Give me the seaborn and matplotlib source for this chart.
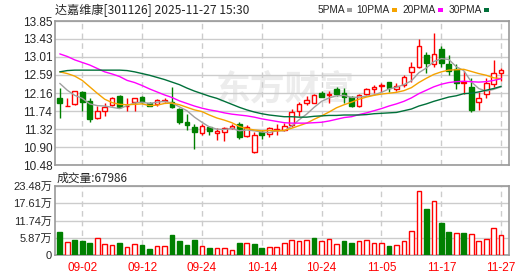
import numpy as np
import matplotlib
matplotlib.use("Agg")
import matplotlib.pyplot as plt
from matplotlib.patches import Rectangle
import seaborn as sns

sns.set_style("white")
plt.rcParams['font.family'] = ['Liberation Sans', 'Noto Sans CJK SC', 'DejaVu Sans']
plt.rcParams['axes.unicode_minus'] = False

# 交易日
dates = ["08-28", "08-29", "09-01", "09-02", "09-03", "09-04", "09-05", "09-08", "09-09", "09-10",
         "09-11", "09-12", "09-15", "09-16", "09-17", "09-18", "09-19", "09-22", "09-23", "09-24",
         "09-25", "09-26", "09-29", "09-30", "10-09", "10-10", "10-13", "10-14", "10-15", "10-16",
         "10-17", "10-20", "10-21", "10-22", "10-23", "10-24", "10-27", "10-28", "10-29", "10-30",
         "10-31", "11-03", "11-04", "11-05", "11-06", "11-07", "11-10", "11-11", "11-12", "11-13",
         "11-14", "11-17", "11-18", "11-19", "11-20", "11-21", "11-24", "11-25", "11-26", "11-27"]
tick_dates = ["09-02", "09-12", "09-24", "10-14", "10-24", "11-05", "11-17", "11-27"]

opens = [12.04, 11.86, 11.90, 12.19, 11.98, 11.57, 11.75, 11.89, 12.10, 11.86,
         11.96, 12.06, 11.92, 11.90, 11.98, 11.95, 11.79, 11.48, 11.36, 11.22,
         11.36, 11.24, 11.26, 11.34, 11.44, 11.17, 10.78, 11.26, 11.21, 11.31,
         11.31, 11.42, 11.75, 11.92, 11.94, 12.16, 12.11, 12.25, 12.17, 12.08,
         11.87, 12.14, 12.25, 12.34, 12.42, 12.27, 12.36, 12.66, 12.78, 13.05,
         12.84, 13.19, 12.84, 12.73, 12.40, 12.31, 11.95, 12.14, 12.38, 12.63]
highs = [12.28, 12.04, 12.22, 12.22, 12.04, 11.86, 11.92, 12.08, 12.12, 12.04,
         12.04, 12.09, 11.95, 12.02, 12.05, 12.31, 11.82, 11.67, 11.43, 11.43,
         11.40, 11.35, 11.38, 11.45, 11.49, 11.42, 11.26, 11.30, 11.38, 11.44,
         11.46, 11.78, 11.95, 12.09, 12.14, 12.22, 12.22, 12.31, 12.28, 12.09,
         12.15, 12.28, 12.35, 12.41, 12.43, 12.41, 12.59, 12.89, 13.43, 13.12,
         13.57, 13.27, 13.05, 12.84, 12.68, 12.51, 12.20, 12.51, 12.94, 12.76]
lows = [11.59, 11.85, 11.88, 11.75, 11.49, 11.55, 11.63, 11.86, 11.81, 11.75,
        11.75, 11.94, 11.85, 11.87, 11.95, 11.81, 11.43, 11.29, 10.85, 11.18,
        11.18, 11.06, 11.03, 11.33, 11.10, 11.14, 10.75, 11.10, 11.14, 11.18,
        11.28, 11.38, 11.62, 11.88, 11.92, 12.06, 11.92, 12.09, 11.93, 11.84,
        11.84, 12.12, 12.17, 12.19, 12.19, 12.22, 12.31, 12.43, 12.74, 12.64,
        12.77, 12.77, 12.59, 12.27, 12.15, 11.71, 11.77, 12.05, 12.31, 12.45]
closes = [11.94, 11.87, 12.21, 11.96, 11.56, 11.74, 11.84, 12.04, 11.84, 11.87,
          12.04, 11.96, 11.87, 11.99, 11.99, 11.84, 11.49, 11.42, 11.25, 11.40,
          11.27, 11.27, 11.34, 11.40, 11.14, 11.36, 11.18, 11.18, 11.34, 11.32,
          11.39, 11.73, 11.91, 12.00, 12.12, 12.08, 12.13, 12.15, 12.07, 11.87,
          12.11, 12.25, 12.30, 12.35, 12.28, 12.33, 12.53, 12.77, 13.27, 12.87,
          13.07, 12.86, 12.69, 12.41, 12.42, 11.77, 12.05, 12.39, 12.63, 12.70]

# 成交量（万手）
volume = [7.9, 4.5, 5.1, 4.9, 4.2, 5.7, 3.7, 3.4, 4.2, 2.6,
          3.7, 3.4, 2.1, 3.1, 3.1, 6.8, 4.9, 3.4, 5.1, 3.1,
          2.5, 2.3, 2.3, 1.7, 4.2, 4.0, 3.7, 2.5, 2.7, 2.7,
          4.0, 5.1, 4.75, 5.1, 5.7, 4.75, 5.3, 3.7, 4.75, 4.2,
          4.75, 5.1, 4.0, 4.0, 3.05, 3.4, 4.75, 8.1, 21.7, 15.6,
          18.3, 11.0, 7.9, 7.6, 7.4, 7.1, 4.75, 5.3, 9.05, 6.8]
vol_up = "grgggrrrgrrggrrggggrgrrrgrggrrrrrrgrrrggrrrrgrrrrgrggrgrrrrr"

ma5 = [12.39, 12.23, 12.11, 12.04, 11.91, 11.87, 11.86, 11.83, 11.80, 11.87,
       11.93, 11.95, 11.92, 11.95, 11.97, 11.93, 11.84, 11.75, 11.60, 11.48,
       11.37, 11.32, 11.31, 11.34, 11.28, 11.30, 11.28, 11.25, 11.24, 11.28,
       11.28, 11.39, 11.54, 11.67, 11.83, 11.97, 12.05, 12.10, 12.11, 12.06,
       12.07, 12.09, 12.12, 12.18, 12.26, 12.30, 12.36, 12.45, 12.64, 12.75,
       12.90, 12.97, 12.95, 12.78, 12.69, 12.43, 12.27, 12.21, 12.25, 12.31]
ma10 = [12.66, 12.62, 12.56, 12.46, 12.31, 12.16, 12.02, 11.94, 11.90, 11.89,
        11.90, 11.91, 11.87, 11.88, 11.92, 11.93, 11.89, 11.83, 11.77, 11.73,
        11.65, 11.58, 11.53, 11.47, 11.38, 11.33, 11.30, 11.28, 11.29, 11.28,
        11.29, 11.34, 11.40, 11.46, 11.55, 11.63, 11.72, 11.82, 11.89, 11.95,
        12.02, 12.07, 12.11, 12.14, 12.16, 12.18, 12.22, 12.29, 12.41, 12.51,
        12.60, 12.66, 12.70, 12.71, 12.72, 12.67, 12.62, 12.58, 12.52, 12.50]
ma20 = [13.08, 13.02, 12.94, 12.88, 12.82, 12.74, 12.66, 12.61, 12.55, 12.46,
        12.41, 12.34, 12.26, 12.19, 12.12, 12.06, 11.98, 11.92, 11.86, 11.81,
        11.77, 11.74, 11.70, 11.67, 11.65, 11.63, 11.60, 11.56, 11.53, 11.50,
        11.47, 11.46, 11.46, 11.46, 11.47, 11.48, 11.51, 11.55, 11.59, 11.61,
        11.66, 11.70, 11.75, 11.80, 11.86, 11.91, 11.97, 12.05, 12.15, 12.23,
        12.31, 12.37, 12.41, 12.43, 12.44, 12.43, 12.42, 12.43, 12.46, 12.50]
ma30 = [12.66, 12.69, 12.70, 12.70, 12.70, 12.70, 12.70, 12.70, 12.70, 12.69,
        12.66, 12.62, 12.58, 12.53, 12.48, 12.42, 12.36, 12.28, 12.21, 12.15,
        12.09, 12.04, 11.97, 11.90, 11.83, 11.77, 11.72, 11.68, 11.65, 11.63,
        11.61, 11.61, 11.60, 11.60, 11.62, 11.63, 11.64, 11.64, 11.65, 11.65,
        11.65, 11.66, 11.68, 11.69, 11.70, 11.71, 11.75, 11.79, 11.86, 11.91,
        11.97, 12.02, 12.07, 12.10, 12.15, 12.16, 12.19, 12.23, 12.27, 12.32]

price_ticks = [10.48, 10.90, 11.32, 11.74, 12.16, 12.59, 13.01, 13.43, 13.85]
vol_ticks = [0, 5.87, 11.74, 17.61, 23.48]
vol_tick_labels = ["0", "5.87万", "11.74万", "17.61万", "23.48万"]

RED = "#ff0000"
GREEN = "#008000"
ma_colors = {"5PMA": "#a0a0a0", "10PMA": "#f5a300", "20PMA": "#ff00ff", "30PMA": "#00703a"}

idx = np.arange(len(dates))
tick_idx = [dates.index(d) for d in tick_dates]

fig = plt.figure(figsize=(5.30, 2.76), dpi=100)
ax = fig.add_axes([55 / 530, 1 - 165 / 276, 454 / 530, 144 / 276])
axv = fig.add_axes([55 / 530, 1 - 255 / 276, 454 / 530, 69 / 276])

for a in (ax, axv):
    a.set_xlim(-0.64, 60.05)
    a.set_axisbelow(True)
    for s in a.spines.values():
        s.set_color("#999999")
        s.set_linewidth(1.2)
    a.set_xticks(tick_idx)
    a.grid(axis="x", color="#cccccc", linestyle=(0, (4, 3)), linewidth=1)
    a.tick_params(length=0, labelsize=8.5, pad=2)

# 价格
ax.set_ylim(10.48, 13.85)
ax.set_yticks(price_ticks)
ax.set_yticklabels([f"{t:.2f}" for t in price_ticks])
ax.grid(axis="y", color="#cccccc", linestyle="-", linewidth=1)
ax.set_xticklabels([])

ax.text(0.355, 0.53, "东方财富", transform=ax.transAxes, fontsize=25, fontweight="bold",
        color="#ececec", family=["Noto Sans CJK SC"], va="center", zorder=0.4)

w = 0.62
for i in idx:
    o, h, l, c = opens[i], highs[i], lows[i], closes[i]
    up = c >= o
    col = RED if up else GREEN
    ax.vlines(i, l, h, color=col, linewidth=1, zorder=2)
    body = max(abs(c - o), 0.004)
    ax.bar(i, body, bottom=min(o, c), width=w, facecolor="white" if up else GREEN,
           edgecolor=col, linewidth=1, zorder=3)

for name, vals in zip(ma_colors, (ma5, ma10, ma20, ma30)):
    sns.lineplot(x=idx, y=vals, ax=ax, color=ma_colors[name], linewidth=1, zorder=4)
ax.set_xlabel("")
ax.set_ylabel("")

# 成交量
axv.set_ylim(0, 23.48)
axv.set_yticks(vol_ticks)
axv.set_yticklabels(vol_tick_labels)
axv.tick_params(axis="y", labelsize=8)
axv.grid(axis="y", color="#cccccc", linestyle="-", linewidth=1)
vcols = [RED if f == "r" else GREEN for f in vol_up]
axv.bar(idx, volume, width=w, facecolor=["white" if f == "r" else GREEN for f in vol_up],
        edgecolor=vcols, linewidth=1, zorder=3)
axv.set_xticklabels(tick_dates, color=RED)
axv.tick_params(axis="x", pad=5, labelsize=8.5)

# 标题与图例
fig.text(55 / 530, 1 - 10 / 276, "达嘉维康[301126] 2025-11-27 15:30", fontsize=8.7,
         family=["Noto Sans CJK SC"], va="center", ha="left")
legend_end = [345, 390, 436, 482]
for (name, col), lx in zip(ma_colors.items(), legend_end):
    fig.text(lx / 530, 1 - 10 / 276, name, fontsize=7.3, va="center", ha="right")
    fig.patches.append(Rectangle(((lx + 2) / 530, 1 - 12 / 276), 5 / 530, 4 / 276,
                                 transform=fig.transFigure, facecolor=col, edgecolor="none"))
fig.text(57 / 530, 1 - 178 / 276, "成交量:67986", fontsize=8.5,
         family=["Noto Sans CJK SC", "DejaVu Sans"], va="center", ha="left")

fig.savefig("out.png", dpi=100)
